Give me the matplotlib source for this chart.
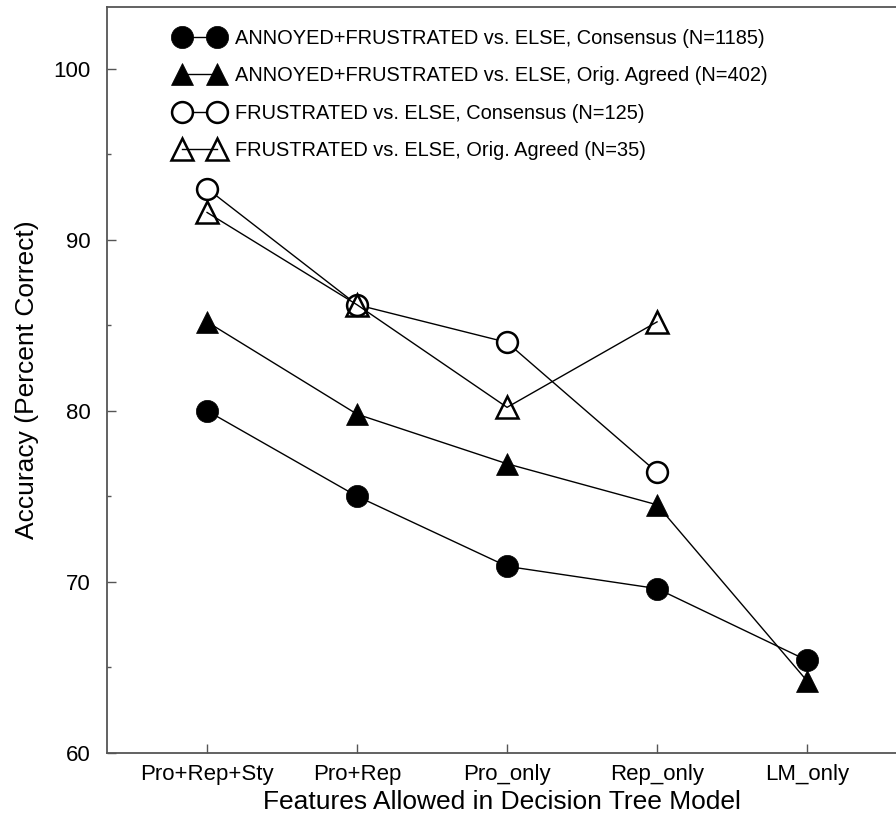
import numpy as np
import matplotlib
matplotlib.use("Agg")
import matplotlib.pyplot as plt
from matplotlib.ticker import MultipleLocator

plt.rcParams['font.family'] = ['Liberation Sans', 'DejaVu Sans']

# Datos
categories = ['Pro+Rep+Sty', 'Pro+Rep', 'Pro_only', 'Rep_only', 'LM_only']
af_consensus = [80.0, 75.0, 70.9, 69.6, 65.4]
af_agreed = [85.2, 79.8, 76.9, 74.5, 64.2]
fr_consensus = [93.0, 86.2, 84.0, 76.4]
fr_agreed = [91.6, 86.2, 80.2, 85.2]

labels = [
    'ANNOYED+FRUSTRATED vs. ELSE, Consensus (N=1185)',
    'ANNOYED+FRUSTRATED vs. ELSE, Orig. Agreed (N=402)',
    'FRUSTRATED vs. ELSE, Consensus (N=125)',
    'FRUSTRATED vs. ELSE, Orig. Agreed (N=35)',
]

W, H = 896, 815
fig = plt.figure(figsize=(W / 100, H / 100), dpi=100)
left, right, bottom, top = 107, 896, 752.7, 7.3
ax = fig.add_axes([left / W, 1 - bottom / H, (right - left) / W, (bottom - top) / H])

x = np.arange(len(categories))
lw = 1.0

ax.plot(x, af_consensus, color='black', lw=lw, marker='o', ms=16,
        mfc='black', mec='black', mew=0.5, label=labels[0], zorder=3)
ax.plot(x, af_agreed, color='black', lw=lw, marker='^', ms=16.5,
        mfc='black', mec='black', mew=0.5, label=labels[1], zorder=3)
ax.plot(x[:len(fr_consensus)], fr_consensus, color='black', lw=lw, marker='o', ms=15,
        mfc='white', mec='black', mew=1.8, label=labels[2], zorder=3)
ax.plot(x[:len(fr_agreed)], fr_agreed, color='black', lw=lw, marker='^', ms=16.5,
        mfc='none', mec='black', mew=1.8, label=labels[3], zorder=4)

ax.set_xlim(-0.667, -0.667 + (right - left) / 150)
ax.set_ylim(60, 103.6)
ax.set_xticks(x)
ax.set_xticklabels(categories)
ax.yaxis.set_major_locator(MultipleLocator(10))
ax.yaxis.set_minor_locator(MultipleLocator(5))

spine_c = '#555555'
for s in ['left', 'bottom', 'top']:
    ax.spines[s].set_color(spine_c)
    ax.spines[s].set_linewidth(1.3)
ax.spines['right'].set_visible(False)

ax.tick_params(axis='both', which='major', direction='in', length=6.5, width=1,
               color=spine_c, labelsize=16)
ax.tick_params(axis='y', which='major', pad=12)
ax.tick_params(axis='x', which='major', pad=8, top=False)
ax.tick_params(axis='y', which='minor', direction='in', length=3, width=1,
               color=spine_c, right=False)

ax.set_xlabel('Features Allowed in Decision Tree Model', fontsize=19, labelpad=4)
ax.set_ylabel('Accuracy (Percent Correct)', fontsize=19, labelpad=10)

ax.legend(loc='upper left', bbox_to_anchor=(176 / W, 1 - 29 / H),
          bbox_transform=fig.transFigure, frameon=False, fontsize=14.4,
          numpoints=2, handlelength=2.33, handletextpad=0.6,
          labelspacing=0.92, borderpad=0, borderaxespad=0)

fig.savefig('out.png', dpi=100)
